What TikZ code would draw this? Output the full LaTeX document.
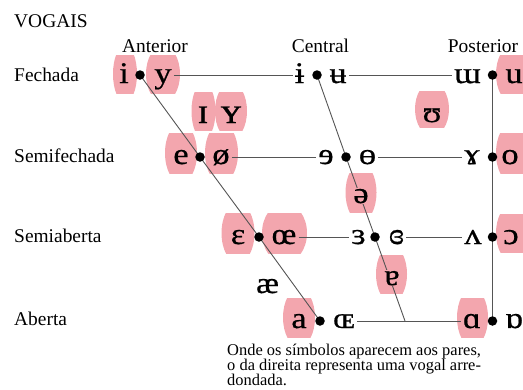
\documentclass[tikz,border=0pt]{standalone}
\usepackage{fontspec}
\setmainfont{Liberation Serif}
\newfontfamily\ipafont[FakeStretch=1.15,FakeBold=0.6]{Liberation Serif}
\definecolor{padpink}{RGB}{243,166,174}
\definecolor{rulegray}{RGB}{85,85,85}
\pgfdeclarelayer{pads}
\pgfdeclarelayer{links}
\pgfsetlayers{pads,links,main}
\tikzset{
  sym/.style={font=\ipafont\fontsize{30}{30}\selectfont, inner sep=2bp, anchor=base},
  bigsym/.style={sym, font=\ipafont\fontsize{36}{36}\selectfont},
  lab/.style={font=\fontsize{19.5}{20}\selectfont, inner sep=0pt, anchor=base west},
  head/.style={font=\fontsize{19.5}{20}\selectfont, inner sep=0pt, anchor=base},
  note/.style={font=\fontsize{16.5}{15}\selectfont, inner sep=0pt, anchor=base west},
  knot/.style={circle, fill=black, inner sep=0pt, minimum size=9.5bp},
  link/.style={draw=rulegray, line width=0.9bp},
  cover/.style={fill=padpink, inner sep=1bp},
}
% barrel-shaped highlight: centre x, centre y, width, height
\newcommand\padat[4]{%
  \begin{scope}
    \clip (#1-#3/2,#2-#4/2) rectangle (#1+#3/2,#2+#4/2);
    \fill[padpink] (#1,#2) ellipse [x radius={(#3)*0.5bp}, y radius={(#4)*0.75bp}];
  \end{scope}}
\begin{document}
\begin{tikzpicture}[x=1bp,y=-1bp]
\useasboundingbox (0,0) rectangle (523,389);

% headings
\node[lab] (title) at (14,27) {VOGAIS};
\node[head] (hant) at (155,52) {Anterior};
\node[head] (hcen) at (320.5,52) {Central};
\node[head] (hpos) at (483,52) {Posterior};
\node[lab] (rclose) at (14,81) {Fechada};
\node[lab] (rmidc) at (14,162) {Semifechada};
\node[lab] (rmido) at (14,242) {Semiaberta};
\node[lab] (ropen) at (14,325) {Aberta};

% highlights behind the rounded / selected vowels
\begin{pgfonlayer}{pads}
  \padat{125}{74}{24}{38}
  \padat{163}{74}{34}{38}
  \padat{203.5}{111}{24}{38}
  \padat{231}{111}{32}{38}
  \padat{432}{109}{34}{36}
  \padat{512}{74}{32}{38}
  \padat{181}{153}{32}{40}
  \padat{221.5}{153}{33}{40}
  \padat{512}{153}{32}{40}
  \padat{361}{192.5}{31}{39}
  \padat{238}{233}{33}{40}
  \padat{284.5}{233}{45}{40}
  \padat{512}{233}{32}{38}
  \padat{391.5}{274}{31}{38}
  \padat{299}{317.5}{32}{39}
  \padat{472.5}{317.5}{31}{39}
\end{pgfonlayer}

% close row
\node[sym] (vi) at (124,83) {i};
\node[knot] (fd1) at (140,75) {};
\node[sym] (vy) at (163,83) {y};
\node[sym] (vibar) at (299.5,83) {ɨ};
\node[knot] (cd1) at (317,75) {};
\node[sym] (vubar) at (338,83) {ʉ};
\node[sym] (vmturn) at (467.5,83) {ɯ};
\node[knot] (bd1) at (492.5,75) {};
\node[sym] (vu) at (514,83) {u};

% near-close
\node[bigsym] (vsmi) at (203,123) {ɪ};
\node[bigsym] (vsmy) at (231,123) {ʏ};
\node[sym] (vups) at (432,122) {ʊ};

% close-mid row
\node[sym] (ve) at (181,164) {e};
\node[knot] (fd2) at (200,157) {};
\node[sym] (voslash) at (221,164) {ø};
\node[sym] (vreve) at (326,164) {ɘ};
\node[knot] (cd2) at (346,157) {};
\node[sym] (vbaro) at (367.5,164) {ɵ};
\node[sym] (vram) at (472,164) {ɤ};
\node[knot] (bd2) at (492.5,157) {};
\node[sym] (vo) at (510,164) {o};

% mid
\node[sym, cover] (vschwa) at (361,203) {ə};

% open-mid row
\node[sym] (veps) at (238,244) {ɛ};
\node[knot] (fd3) at (259,237) {};
\node[sym] (voe) at (284,244) {œ};
\node[sym] (vreveps) at (358.5,244) {ɜ};
\node[knot] (cd3) at (375,237) {};
\node[sym] (vclreveps) at (396.5,244) {ɞ};
\node[sym] (vwedge) at (473,244) {ʌ};
\node[knot] (bd3) at (492.5,237) {};
\node[sym] (vopeno) at (511,244) {ɔ};

% near-open
\node[sym, cover] (vturna) at (392,285) {ɐ};
\node[sym] (vash) at (267.5,293) {æ};

% open row
\node[sym] (va) at (299,328) {a};
\node[knot] (fd4) at (320,321) {};
\node[sym] (vOE) at (344,328) {ɶ};
\node[sym] (vscripta) at (472,328) {ɑ};
\node[knot] (bd4) at (492.5,321) {};
\node[sym] (vturnscripta) at (514,328) {ɒ};
\coordinate (cend) at (405,321);

% chart lines
\begin{pgfonlayer}{links}
  \draw[link] (vy.east |- fd1) -- (vibar.west |- fd1);
  \draw[link] (vubar.east |- cd1) -- (vmturn.west |- cd1);
  \draw[link] (voslash.east |- fd2) -- (vreve.west |- fd2);
  \draw[link] (vbaro.east |- cd2) -- (vram.west |- cd2);
  \draw[link] (voe.east |- fd3) -- (vreveps.west |- fd3);
  \draw[link] (vclreveps.east |- cd3) -- (vwedge.west |- cd3);
  \draw[link] (vOE.east |- fd4) -- (vscripta.west |- fd4);
  \draw[link] (fd1.center) -- (fd2.center) -- (fd3.center) -- (fd4.center);
  \draw[link] (cd1.center) -- (cd2.center) -- (cd3.center) -- (cend);
  \draw[link] (bd1.center) -- (bd4.center);
\end{pgfonlayer}

% footnote
\node[note] (n1) at (227,355) {Onde os símbolos aparecem aos pares,};
\node[note] (n2) at (227,370) {o da direita representa uma vogal arre-};
\node[note] (n3) at (227,385) {dondada.};
\end{tikzpicture}
\end{document}
